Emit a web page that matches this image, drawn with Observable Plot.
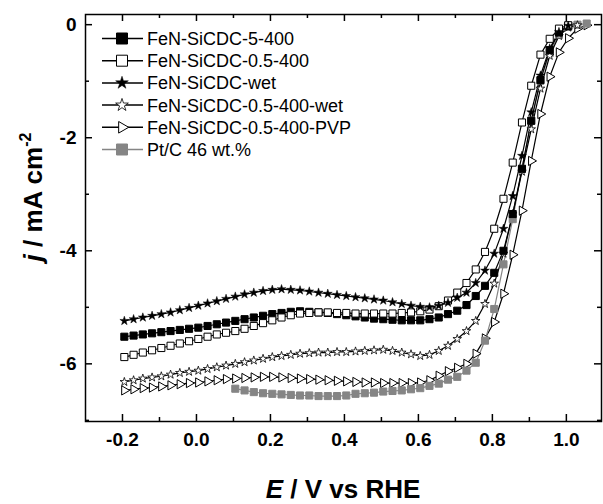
<!DOCTYPE html>
<html>
<head>
<meta charset="utf-8">
<script src="https://cdn.jsdelivr.net/npm/d3@7"></script>
<script src="https://cdn.jsdelivr.net/npm/@observablehq/plot@0.6"></script>
<style>
  html, body { margin: 0; padding: 0; background: white; }
  #chart { width: 603px; height: 504px; }
</style>
</head>
<body>
<div id="chart"></div>
<script>
// Potential grid (V vs RHE)
const E = [-0.195, -0.17, -0.145, -0.12, -0.095, -0.07, -0.045, -0.02, 0.005, 0.03,
  0.055, 0.08, 0.105, 0.13, 0.155, 0.18, 0.205, 0.23, 0.255, 0.28,
  0.305, 0.33, 0.355, 0.38, 0.405, 0.43, 0.455, 0.48, 0.505, 0.53,
  0.555, 0.58, 0.605, 0.63, 0.655, 0.68, 0.705, 0.73, 0.755, 0.78,
  0.805, 0.83, 0.855, 0.88, 0.905, 0.93, 0.955, 0.98, 1.005, 1.03, 1.055];

const seriesNames = ["FeN-SiCDC-5-400", "FeN-SiCDC-0.5-400", "FeN-SiCDC-wet",
  "FeN-SiCDC-0.5-400-wet", "FeN-SiCDC-0.5-400-PVP", "Pt/C 46 wt.%"];

const j_5_400 = [-5.52, -5.50, -5.48, -5.46, -5.44, -5.42, -5.40, -5.38, -5.36, -5.33,
  -5.30, -5.27, -5.24, -5.21, -5.18, -5.15, -5.12, -5.10, -5.08, -5.07,
  -5.08, -5.09, -5.10, -5.12, -5.14, -5.16, -5.18, -5.20, -5.21, -5.22,
  -5.23, -5.23, -5.23, -5.21, -5.18, -5.12, -5.06, -4.96, -4.80, -4.62,
  -4.39, -4.00, -3.35, -2.55, -1.70, -0.98, -0.45, -0.14, -0.02, null, null];

const j_05_400 = [-5.88, -5.84, -5.80, -5.76, -5.72, -5.68, -5.64, -5.60, -5.56, -5.52,
  -5.48, -5.45, -5.42, -5.38, -5.33, -5.28, -5.23, -5.18, -5.14, -5.11,
  -5.10, -5.09, -5.09, -5.10, -5.10, -5.11, -5.11, -5.11, -5.11, -5.11,
  -5.10, -5.09, -5.07, -5.04, -4.98, -4.88, -4.74, -4.57, -4.33, -4.02,
  -3.61, -3.08, -2.44, -1.73, -1.08, -0.53, -0.25, -0.07, -0.01, null, null];

const j_wet = [-5.24, -5.21, -5.18, -5.15, -5.12, -5.09, -5.05, -5.01, -4.97, -4.93,
  -4.89, -4.85, -4.81, -4.77, -4.74, -4.71, -4.69, -4.68, -4.69, -4.70,
  -4.72, -4.74, -4.76, -4.78, -4.80, -4.82, -4.84, -4.86, -4.88, -4.91,
  -4.94, -4.97, -4.99, -5.00, -4.97, -4.92, -4.83, -4.74, -4.57, -4.35,
  -4.05, -3.61, -3.03, -2.32, -1.55, -0.90, -0.42, -0.13, -0.02, null, null];

const j_05_400_wet = [-6.32, -6.29, -6.26, -6.24, -6.22, -6.19, -6.16, -6.14, -6.12, -6.09,
  -6.06, -6.03, -6.00, -5.97, -5.94, -5.91, -5.88, -5.86, -5.84, -5.82,
  -5.81, -5.80, -5.80, -5.79, -5.79, -5.78, -5.77, -5.76, -5.75, -5.77,
  -5.80, -5.83, -5.86, -5.84, -5.77, -5.68, -5.56, -5.42, -5.24, -4.94,
  -4.58, -4.05, -3.35, -2.60, -1.85, -1.13, -0.55, -0.20, -0.05, -0.01, null];

const j_05_400_pvp = [-6.47, -6.45, -6.43, -6.42, -6.40, -6.38, -6.36, -6.34, -6.33, -6.31,
  -6.29, -6.27, -6.26, -6.25, -6.24, -6.23, -6.23, -6.24, -6.25, -6.26,
  -6.27, -6.28, -6.29, -6.30, -6.31, -6.32, -6.33, -6.33, -6.34, -6.34,
  -6.34, -6.34, -6.33, -6.29, -6.21, -6.13, -6.07, -6.00, -5.82, -5.55,
  -5.26, -4.76, -4.07, -3.29, -2.41, -1.58, -0.92, -0.49, -0.24, -0.07, -0.01];

const j_ptc = [null, null, null, null, null, null, null, null, null, null,
  null, null, -6.44, -6.47, -6.50, -6.52, -6.53, -6.54, -6.55, -6.56,
  -6.56, -6.57, -6.57, -6.57, -6.56, -6.53, -6.52, -6.51, -6.49, -6.48,
  -6.47, -6.45, -6.43, -6.39, -6.35, -6.28, -6.23, -6.12, -5.98, -5.59,
  -5.03, -4.24, -3.44, -2.55, -1.70, -0.99, -0.50, -0.18, -0.04, 0.00, 0.02];

const xMajor = [-0.2, 0.0, 0.2, 0.4, 0.6, 0.8, 1.0];
const xMinor = [-0.1, 0.1, 0.3, 0.5, 0.7, 0.9];
const yMajor = [0, -2, -4, -6];
const yMinor = [-1, -3, -5, -7];

const GRAY = "#858585";

const styles = [
  {name: seriesNames[0], vals: j_5_400, symbol: "square", r: 4, fill: "black", stroke: "black", sw: 1, line: "black"},
  {name: seriesNames[1], vals: j_05_400, symbol: "square", r: 4, fill: "white", stroke: "black", sw: 1, line: "black"},
  {name: seriesNames[2], vals: j_wet, symbol: "star", r: 2.8, fill: "black", stroke: "black", sw: 0.5, line: "black"},
  {name: seriesNames[3], vals: j_05_400_wet, symbol: "star", r: 2.7, fill: "white", stroke: "black", sw: 0.8, line: "black"},
  {name: seriesNames[4], vals: j_05_400_pvp, symbol: "triangle2", r: 4.4, fill: "white", stroke: "black", sw: 1, line: "black", rotate: 90},
  {name: seriesNames[5], vals: j_ptc, symbol: "square", r: 4, fill: GRAY, stroke: GRAY, sw: 1, line: GRAY}
];

const tables = styles.map(s => E.map((e, i) => ({E: e, j: s.vals[i]})).filter(d => d.j !== null));

// Drawing order for markers
const order = [4, 5, 3, 0, 1, 2];

const W = 603, H = 504, mL = 85, mR = 2, mT = 14, mB = 83;
const fw = W - mL - mR, fh = H - mT - mB;

const marks = [];
order.forEach(k => {
  marks.push(Plot.line(tables[k], {x: "E", y: "j", stroke: styles[k].line, strokeWidth: 1.2}));
});
order.forEach(k => {
  const s = styles[k];
  const opts = {x: "E", y: "j", symbol: s.symbol, r: s.r, fill: s.fill, stroke: s.stroke, strokeWidth: s.sw};
  if (s.rotate) opts.rotate = s.rotate;
  marks.push(Plot.dot(tables[k], opts));
});

const chart = Plot.plot({
  width: W, height: H,
  marginLeft: mL, marginRight: mR, marginTop: mT, marginBottom: mB,
  x: {domain: [-0.3, 1.095]},
  y: {domain: [-7.02, 0.18]},
  style: {fontFamily: "'Liberation Sans', Arial, sans-serif", background: "white", color: "black"},
  marks: [
    ...marks,
    // inward ticks: bottom & top
    Plot.tickX(xMajor, {x: d => d, insetTop: fh - 7, stroke: "black", strokeWidth: 1.5}),
    Plot.tickX(xMinor, {x: d => d, insetTop: fh - 4, stroke: "black", strokeWidth: 1.5}),
    Plot.tickX(xMajor, {x: d => d, insetBottom: fh - 7, stroke: "black", strokeWidth: 1.5}),
    Plot.tickX(xMinor, {x: d => d, insetBottom: fh - 4, stroke: "black", strokeWidth: 1.5}),
    // inward ticks: left & right
    Plot.tickY(yMajor, {y: d => d, insetRight: fw - 7, stroke: "black", strokeWidth: 1.5}),
    Plot.tickY(yMinor, {y: d => d, insetRight: fw - 4, stroke: "black", strokeWidth: 1.5}),
    Plot.tickY(yMajor, {y: d => d, insetLeft: fw - 7, stroke: "black", strokeWidth: 1.5}),
    Plot.tickY(yMinor, {y: d => d, insetLeft: fw - 4, stroke: "black", strokeWidth: 1.5}),
    Plot.axisX({ticks: xMajor, tickSize: 0, tickPadding: 11, tickFormat: d => d.toFixed(1), fontSize: 19, fontWeight: "bold", label: null}),
    Plot.axisY({ticks: yMajor, tickSize: 0, tickPadding: 9, tickFormat: d => String(d), fontSize: 19, fontWeight: "bold", label: null}),
    Plot.frame({stroke: "black", strokeWidth: 1.5})
  ]
});

document.getElementById("chart").appendChild(chart);

// Axis titles and legend
const svg = d3.select(chart);
const font = "'Liberation Sans', Arial, sans-serif";

const xt = svg.append("text")
  .attr("x", mL + fw / 2).attr("y", 498)
  .attr("text-anchor", "middle")
  .attr("font-family", font).attr("font-size", 26).attr("font-weight", "bold")
  .attr("fill", "black");
xt.append("tspan").attr("font-style", "italic").text("E");
xt.append("tspan").text(" / V vs RHE");

const yt = svg.append("text")
  .attr("transform", "translate(42,197) rotate(-90)")
  .attr("text-anchor", "middle")
  .attr("font-family", font).attr("font-size", 26).attr("font-weight", "bold")
  .attr("fill", "black");
yt.append("tspan").attr("font-style", "italic").text("j");
yt.append("tspan").text(" / mA cm");
yt.append("tspan").attr("font-size", 16).attr("dy", -11).text("-2");

const symMap = {square: d3.symbolSquare, star: d3.symbolStar, triangle2: d3.symbolTriangle2};
const legendSizes = [121, 121, 50, 50, 96, 121];
const lg = svg.append("g");
styles.forEach((s, i) => {
  const cy = 38.5 + i * 22.2;
  lg.append("line").attr("x1", 102).attr("x2", 143).attr("y1", cy).attr("y2", cy)
    .attr("stroke", s.line).attr("stroke-width", 1.5);
  lg.append("path")
    .attr("d", d3.symbol().type(symMap[s.symbol]).size(legendSizes[i])())
    .attr("transform", `translate(122,${cy})` + (s.rotate ? ` rotate(${s.rotate})` : ""))
    .attr("fill", s.fill).attr("stroke", s.stroke).attr("stroke-width", s.sw);
  lg.append("text").attr("x", 147).attr("y", cy).attr("dy", "0.36em")
    .attr("text-anchor", "start")
    .attr("font-family", font).attr("font-size", 18).attr("fill", "black")
    .text(s.name);
});
</script>
</body>
</html>
